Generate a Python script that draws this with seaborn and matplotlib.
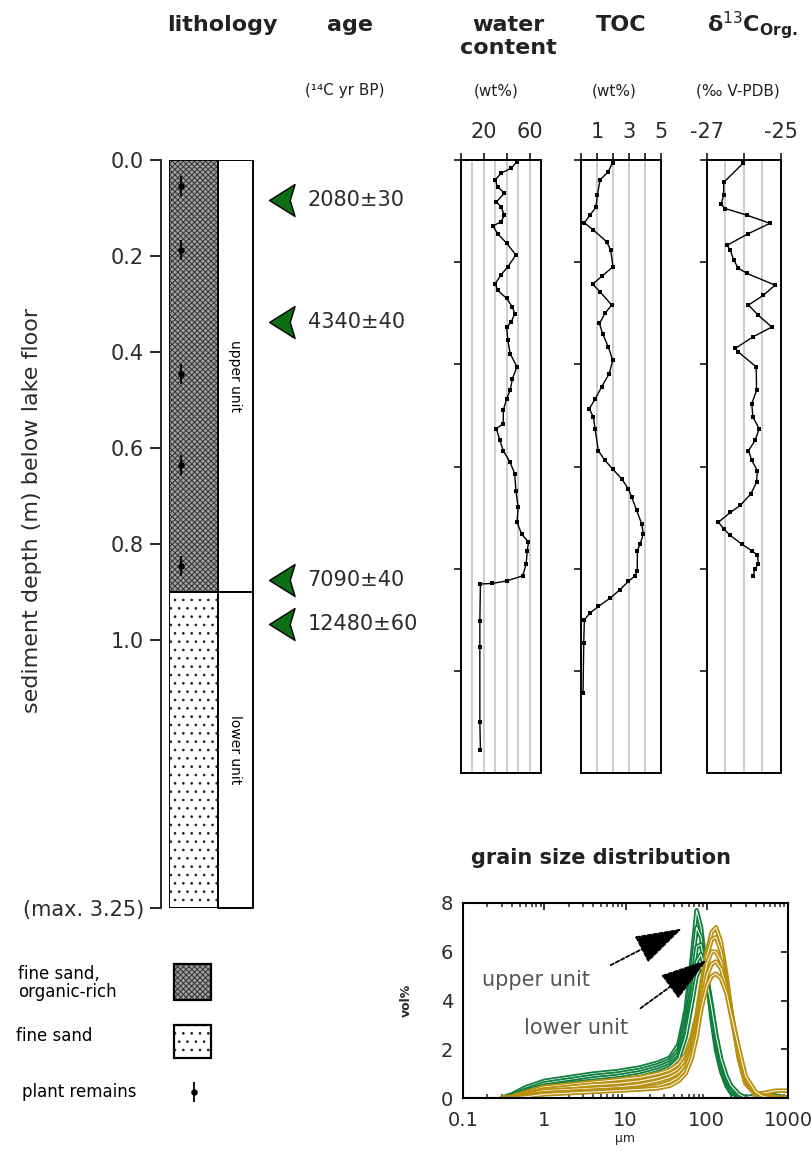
import numpy as np
import pandas as pd
import matplotlib
matplotlib.use("Agg")
import matplotlib.pyplot as plt
import matplotlib.patheffects as pe
from matplotlib.patches import Rectangle
from matplotlib.ticker import LogLocator, NullFormatter
import seaborn as sns

# ---------------- core description ----------------
unit_names = ["upper unit", "lower unit"]
unit_top = [0.0, 0.90]
unit_base = [0.90, 3.25]

plant_depth = [0.054, 0.1875, 0.446, 0.635, 0.846]

age_depth = [0.083, 0.3375, 0.875, 0.967]
age_labels = ["2080\u00b130", "4340\u00b140", "7090\u00b140", "12480\u00b160"]

depth_ticks = [0.0, 0.2, 0.4, 0.6, 0.8, 1.0, 3.25]
depth_ticklabels = ["0.0", "0.2", "0.4", "0.6", "0.8", "1.0", "(max. 3.25)"]

# ---------------- down-core profiles ----------------
water_depth = [0.003, 0.016, 0.026, 0.039, 0.052, 0.065, 0.082, 0.092, 0.108, 0.121,
               0.129, 0.144, 0.163, 0.186, 0.209, 0.225, 0.242, 0.255, 0.271, 0.288,
               0.301, 0.317, 0.327, 0.353, 0.379, 0.405, 0.428, 0.451, 0.467, 0.490,
               0.516, 0.526, 0.549, 0.569, 0.592, 0.614, 0.647, 0.680, 0.709, 0.732,
               0.748, 0.765, 0.791, 0.814, 0.824, 0.829, 0.830, 0.902, 0.954, 1.101,
               1.154]
water_pct = [49, 44, 35, 30, 32, 38, 31, 35, 38, 35,
             28, 32, 40, 48, 41, 35, 30, 32, 40, 45,
             47, 44, 40, 41, 43, 49, 45, 43, 40, 37,
             37, 31, 34, 37, 43, 47, 48, 50, 49, 53,
             59, 58, 57, 54, 40, 27, 17, 16.5, 16.5, 16.5,
             17]

toc_depth = [0.005, 0.023, 0.039, 0.069, 0.092, 0.108, 0.123, 0.137, 0.160, 0.176,
             0.209, 0.228, 0.243, 0.258, 0.284, 0.300, 0.320, 0.340, 0.366, 0.392,
             0.418, 0.444, 0.467, 0.487, 0.503, 0.526, 0.569, 0.588, 0.605, 0.624,
             0.644, 0.660, 0.686, 0.712, 0.732, 0.752, 0.765, 0.804, 0.814, 0.825,
             0.841, 0.858, 0.874, 0.887, 0.900, 0.946, 1.044]
toc_pct = [1.98, 1.70, 1.19, 1.02, 0.94, 0.56, 0.21, 0.77, 1.60, 1.85,
           2.00, 1.29, 0.73, 1.19, 1.92, 1.50, 1.15, 1.35, 1.71, 1.98,
           1.77, 1.29, 0.90, 0.52, 0.77, 0.88, 1.08, 1.50, 1.98, 2.54,
           2.96, 3.17, 3.48, 3.79, 3.90, 3.69, 3.52, 3.52, 3.38, 2.96,
           2.44, 1.81, 1.08, 0.56, 0.21, 0.17, 0.13]

d13c_depth = [0.006, 0.044, 0.069, 0.087, 0.095, 0.108, 0.124, 0.144, 0.167, 0.176,
              0.196, 0.212, 0.222, 0.245, 0.265, 0.284, 0.304, 0.327, 0.346, 0.369,
              0.376, 0.405, 0.451, 0.477, 0.503, 0.526, 0.549, 0.569, 0.588, 0.608,
              0.631, 0.654, 0.676, 0.690, 0.709, 0.722, 0.735, 0.752, 0.765, 0.773,
              0.791, 0.801, 0.814]
d13c_val = [-26.02, -26.55, -26.55, -26.62, -26.51, -25.92, -25.30, -25.88, -26.46, -26.37,
            -26.28, -26.15, -25.92, -25.16, -25.48, -25.88, -25.61, -25.25, -25.75, -26.24,
            -26.15, -25.67, -25.66, -25.79, -25.76, -25.59, -25.70, -25.88, -25.79, -25.64,
            -25.66, -25.82, -26.10, -26.37, -26.69, -26.55, -26.37, -26.06, -25.79, -25.64,
            -25.61, -25.71, -25.75]

# ---------------- grain size distributions ----------------
grain_um = [0.3, 0.4, 0.6, 1, 2, 4, 8, 15, 25, 35, 45, 55, 65, 75, 85,
            100, 115, 130, 150, 175, 200, 250, 300, 400, 500, 700, 1000]

upper_1 = [0, 0.15, 0.45, 0.70, 0.85, 1.00, 1.10, 1.25, 1.45, 1.65, 2.2, 3.6, 5.6, 7.7, 7.0,
           5.0, 3.2, 2.0, 1.1, 0.5, 0.2, 0.05, 0, 0, 0, 0, 0]
upper_2 = [0, 0.10, 0.35, 0.60, 0.75, 0.90, 1.00, 1.15, 1.35, 1.55, 2.0, 3.3, 5.2, 7.0, 6.6,
           5.0, 3.4, 2.2, 1.2, 0.6, 0.25, 0.05, 0, 0, 0, 0, 0]
upper_3 = [0, 0.10, 0.30, 0.50, 0.65, 0.80, 0.90, 1.05, 1.25, 1.45, 1.85, 3.0, 4.6, 6.2, 6.3,
           5.0, 3.6, 2.4, 1.4, 0.7, 0.3, 0.1, 0, 0, 0, 0, 0]
upper_4 = [0, 0.05, 0.25, 0.45, 0.60, 0.70, 0.80, 0.95, 1.15, 1.35, 1.7, 2.7, 4.2, 5.6, 5.9,
           5.0, 3.8, 2.6, 1.5, 0.8, 0.4, 0.1, 0, 0, 0, 0, 0]
upper_5 = [0, 0.05, 0.20, 0.40, 0.50, 0.60, 0.70, 0.85, 1.05, 1.25, 1.6, 2.5, 3.8, 5.0, 5.4,
           4.8, 3.7, 2.6, 1.6, 0.9, 0.5, 0.15, 0.02, 0.1, 0.2, 0.1, 0]

lower_1 = [0, 0.05, 0.25, 0.45, 0.55, 0.65, 0.75, 0.85, 1.0, 1.15, 1.4, 1.8, 2.5, 3.4, 4.6,
           6.0, 6.8, 7.0, 6.4, 5.0, 3.6, 1.6, 0.6, 0.15, 0.2, 0.3, 0.3]
lower_2 = [0, 0.05, 0.20, 0.35, 0.45, 0.55, 0.60, 0.70, 0.85, 1.0, 1.2, 1.6, 2.3, 3.2, 4.4,
           5.8, 6.5, 6.6, 6.0, 4.8, 3.5, 1.6, 0.6, 0.15, 0.1, 0.05, 0]
lower_3 = [0, 0.02, 0.15, 0.30, 0.35, 0.40, 0.45, 0.55, 0.7, 0.85, 1.05, 1.4, 2.1, 3.0, 4.2,
           5.5, 6.0, 6.0, 5.6, 4.6, 3.4, 1.7, 0.7, 0.2, 0.05, 0, 0]
lower_4 = [0, 0.02, 0.10, 0.20, 0.25, 0.30, 0.35, 0.40, 0.5, 0.65, 0.85, 1.2, 1.9, 2.8, 3.9,
           5.0, 5.5, 5.6, 5.3, 4.5, 3.5, 1.9, 0.8, 0.2, 0.05, 0, 0]
lower_5 = [0, 0.0, 0.05, 0.15, 0.20, 0.25, 0.30, 0.35, 0.4, 0.5, 0.7, 1.0, 1.6, 2.5, 3.6,
           4.6, 5.0, 5.1, 4.9, 4.3, 3.4, 2.0, 0.9, 0.25, 0.05, 0, 0]

upper_curves = [upper_1, upper_2, upper_3, upper_4, upper_5]
lower_curves = [lower_1, lower_2, lower_3, lower_4, lower_5]

GREEN = "#10803f"
GOLD = "#b8900e"
ARROW_GREEN = "#0b6e14"
GRID = "#c9c9c9"
TXT = "#2b2b2b"

# ---------------- style ----------------
sns.set_style("white")
plt.rcParams["font.family"] = ["DejaVu Sans"]
plt.rcParams["hatch.linewidth"] = 0.7
plt.rcParams["mathtext.fontset"] = "dejavusans"

W, H = 812, 1151
fig = plt.figure(figsize=(W / 100, H / 100), dpi=100)
PX = 0.72  # points per pixel at 100 dpi


def px_axes(x0, y0, x1, y1):
    return fig.add_axes([x0 / W, 1 - y1 / H, (x1 - x0) / W, (y1 - y0) / H])


def ftext(x, y, s, **kw):
    fig.text(x / W, 1 - y / H, s, **kw)


# depth axis: linear to 1 m, compressed below
K = 0.558 / 2.25


def fwd(d):
    d = np.asarray(d, dtype=float)
    return np.where(d <= 1.0, d, 1.0 + (d - 1.0) * K)


def inv(p):
    p = np.asarray(p, dtype=float)
    return np.where(p <= 1.0, p, 1.0 + (p - 1.0) / K)


# ---------------- lithology column ----------------
ax_l = px_axes(169, 160, 253, 908)
ax_l.set_yscale("function", functions=(fwd, inv))
ax_l.set_ylim(3.25, 0)
ax_l.set_xlim(0, 1)
split = 0.583
fills = [dict(facecolor="#a0a0a0", hatch="xxxxxx", edgecolor="#333333"),
         dict(facecolor="white", hatch="..", edgecolor="#222222")]
for name, top, base, st in zip(unit_names, unit_top, unit_base, fills):
    ax_l.fill_betweenx([top, base], 0, split, linewidth=0, **st)
    ax_l.fill_betweenx([top, base], 0, split, facecolor="none", edgecolor="black", linewidth=1.4)
    ax_l.fill_betweenx([top, base], split, 1, facecolor="white", edgecolor="black", linewidth=1.4)
    mid = float(inv((fwd(top) + fwd(base)) / 2))
    ax_l.text((split + 1) / 2, mid, name, rotation=-90, ha="center", va="center",
              fontsize=10, color="black")

sns.scatterplot(x=np.full(len(plant_depth), 0.14), y=plant_depth, marker="|", s=200,
                linewidth=1.3, color="black", ax=ax_l, legend=False, zorder=5)
sns.scatterplot(x=np.full(len(plant_depth), 0.14), y=plant_depth, marker="o", s=22,
                linewidth=0, color="black", ax=ax_l, legend=False, zorder=6)

for s in ["top", "right", "bottom"]:
    ax_l.spines[s].set_visible(False)
ax_l.spines["left"].set_position(("outward", 8 * PX))
ax_l.spines["left"].set_linewidth(1.4)
ax_l.set_yticks(depth_ticks)
ax_l.set_yticklabels(depth_ticklabels)
ax_l.yaxis.set_minor_locator(plt.NullLocator())
ax_l.tick_params(axis="y", direction="out", length=11 * PX, width=1.4, pad=6 * PX,
                 labelsize=15, labelcolor=TXT, left=True)
ax_l.set_xticks([])
ax_l.set_xlabel("")
ax_l.set_ylabel("")

ftext(32, 510, "sediment depth (m) below lake floor", rotation=90, ha="center", va="center",
      fontsize=16, color=TXT)

# ---------------- radiocarbon ages ----------------
ax_a = px_axes(255, 160, 440, 908)
ax_a.set_yscale("function", functions=(fwd, inv))
ax_a.set_ylim(3.25, 0)
ax_a.set_xlim(0, 1)
ax_a.axis("off")
arrow_marker = [(-1.0, 0.0), (0.6, 1.0), (0.3, 0.0), (0.6, -1.0), (-1.0, 0.0)]
sns.scatterplot(x=np.full(len(age_depth), 0.16), y=age_depth, marker=arrow_marker, s=23 ** 2,
                color=ARROW_GREEN, edgecolor="black", linewidth=1.0, ax=ax_a, legend=False)
for d, lab in zip(age_depth, age_labels):
    ax_a.text(0.285, d, lab, ha="left", va="center", fontsize=15, color=TXT)

# ---------------- profile panels ----------------
profile_depth_ticks = [0.0, 0.2, 0.4, 0.6, 0.8, 1.0]


def profile_panel(x0, x1, xlim, major, labels, grid, depth, vals):
    ax = px_axes(x0, 160, x1, 773)
    ax.set_xlim(*xlim)
    ax.set_ylim(1.2, 0)
    sns.lineplot(x=vals, y=depth, sort=False, orient="y", estimator=None, color="black",
                 linewidth=1.0, marker="s", markersize=2.6, markeredgewidth=0, ax=ax)
    ax.xaxis.tick_top()
    ax.set_xticks(major)
    ax.set_xticklabels(labels)
    ax.set_xticks(grid, minor=True)
    ax.grid(False)
    for g in grid:
        ax.axvline(g, color=GRID, linewidth=1.3, zorder=0)
    ax.tick_params(axis="x", which="major", direction="out", length=7 * PX, width=1.3,
                   top=True, bottom=False, labeltop=True, labelbottom=False,
                   labelsize=15, labelcolor=TXT, pad=8)
    ax.tick_params(axis="x", which="minor", length=0)
    ax.set_yticks(profile_depth_ticks)
    ax.set_yticklabels([])
    ax.tick_params(axis="y", direction="out", length=7 * PX, width=1.3, left=True, right=False)
    for s in ax.spines.values():
        s.set_linewidth(1.4)
        s.set_color("black")
    ax.set_xlabel("")
    ax.set_ylabel("")
    return ax


profile_panel(461, 541, (0, 70), [0, 20, 40, 60], ["", "20", "", "60"],
              [10, 20, 30, 40, 50, 60], water_depth, water_pct)
profile_panel(581, 661, (0, 5), [0, 1, 2, 3, 4, 5], ["", "1", "", "3", "", "5"],
              [1, 2, 3, 4], toc_depth, toc_pct)
profile_panel(707, 781, (-27, -25), [-27, -26, -25], ["-27", "", "-25"],
              [-26.5, -26, -25.5], d13c_depth, d13c_val)

# ---------------- column headers ----------------
hdr = dict(fontsize=16, fontweight="bold", ha="center", va="center", color="#222222")
ftext(222, 25, "lithology", **hdr)
ftext(350, 25, "age", **hdr)
ftext(508, 25, "water", **hdr)
ftext(508, 48, "content", **hdr)
ftext(621, 25, "TOC", **hdr)
ftext(752, 25, "\u03b4$^{13}$C$_{\\mathregular{Org.}}$", **hdr)
unit_kw = dict(fontsize=11, ha="center", va="center", color="#222222")
ftext(345, 91, "(\u00b9\u2074C yr BP)", **unit_kw)
ftext(496, 91, "(wt%)", **unit_kw)
ftext(614, 91, "(wt%)", **unit_kw)
ftext(738, 91, "(\u2030 V-PDB)", **unit_kw)

# ---------------- lithology legend ----------------
ax_k = px_axes(0, 950, 250, 1110)
ax_k.set_xlim(0, 250)
ax_k.set_ylim(1110, 950)
ax_k.axis("off")
for (y0, h), st in zip([(964, 36), (1025, 33)], fills):
    ax_k.add_patch(Rectangle((174, y0), 37, h, linewidth=0, **st))
    ax_k.add_patch(Rectangle((174, y0), 37, h, facecolor="none", edgecolor="black", linewidth=1.6))
key_kw = dict(fontsize=12, ha="left", va="center", color="black")
ax_k.text(18, 983, "fine sand,\norganic-rich", linespacing=1.05, **key_kw)
ax_k.text(16, 1036, "fine sand", **key_kw)
ax_k.text(22, 1092, "plant remains", **key_kw)
sns.scatterplot(x=[194], y=[1092], marker="|", s=200, linewidth=1.3, color="black", ax=ax_k,
                legend=False)
sns.scatterplot(x=[194], y=[1092], marker="o", s=22, linewidth=0, color="black", ax=ax_k,
                legend=False)

# ---------------- grain size panel ----------------
ax_g = px_axes(463, 903, 788, 1098)
ax_g.set_xscale("log")
rows = []
for unit, curves in [("upper", upper_curves), ("lower", lower_curves)]:
    for i, c in enumerate(curves):
        for g, v in zip(grain_um, c):
            rows.append((unit, f"{unit}{i}", g, v))
gsd = pd.DataFrame(rows, columns=["unit", "sample", "size", "vol"])
for unit, col in [("upper", GREEN), ("lower", GOLD)]:
    sub = gsd[gsd["unit"] == unit]
    sns.lineplot(data=sub, x="size", y="vol", units="sample", estimator=None, sort=False,
                 color="white", linewidth=0.7, ax=ax_g, legend=False,
                 path_effects=[pe.Stroke(linewidth=3.3, foreground=col), pe.Normal()])
ax_g.set_xlim(0.1, 1000)
ax_g.set_ylim(0, 8)
ax_g.set_xticks([0.1, 1, 10, 100, 1000])
ax_g.set_xticklabels(["0.1", "1", "10", "100", "1000"])
ax_g.xaxis.set_minor_locator(LogLocator(base=10, subs=np.arange(2, 10), numticks=20))
ax_g.xaxis.set_minor_formatter(NullFormatter())
ax_g.set_yticks([0, 2, 4, 6, 8])
ax_g.tick_params(axis="both", which="major", direction="in", length=7 * PX, width=1.3,
                 top=True, right=True, labelsize=14, labelcolor=TXT)
ax_g.tick_params(axis="x", which="major", pad=9)
ax_g.tick_params(axis="y", which="major", pad=7)
ax_g.tick_params(axis="x", which="minor", direction="in", length=4 * PX, width=1.1,
                 top=True, bottom=True)
for s in ax_g.spines.values():
    s.set_linewidth(1.5)
    s.set_color("black")
ax_g.set_xlabel("\u00b5m", fontsize=9, labelpad=2)
ax_g.set_ylabel("vol%", fontsize=9, fontweight="bold", labelpad=20)

arrow_kw = dict(arrowstyle="-|>,head_length=3.0,head_width=0.95", color="black",
                linewidth=1.3, linestyle=(0, (2.0, 1.2)), shrinkA=0, shrinkB=0)
ax_g.annotate("", xy=(49.6, 6.95), xytext=(6.55, 5.45), arrowprops=arrow_kw, fontsize=10)
ax_g.annotate("", xy=(100, 5.66), xytext=(15.3, 3.68), arrowprops=arrow_kw, fontsize=10)
ax_g.text(0.79, 4.84, "upper unit", ha="center", va="center", fontsize=15, color="#555555")
ax_g.text(2.43, 2.87, "lower unit", ha="center", va="center", fontsize=15, color="#555555")

ftext(601, 858, "grain size distribution", fontsize=15, fontweight="bold", ha="center",
      va="center", color="#222222")

fig.savefig("out.png", dpi=100)
